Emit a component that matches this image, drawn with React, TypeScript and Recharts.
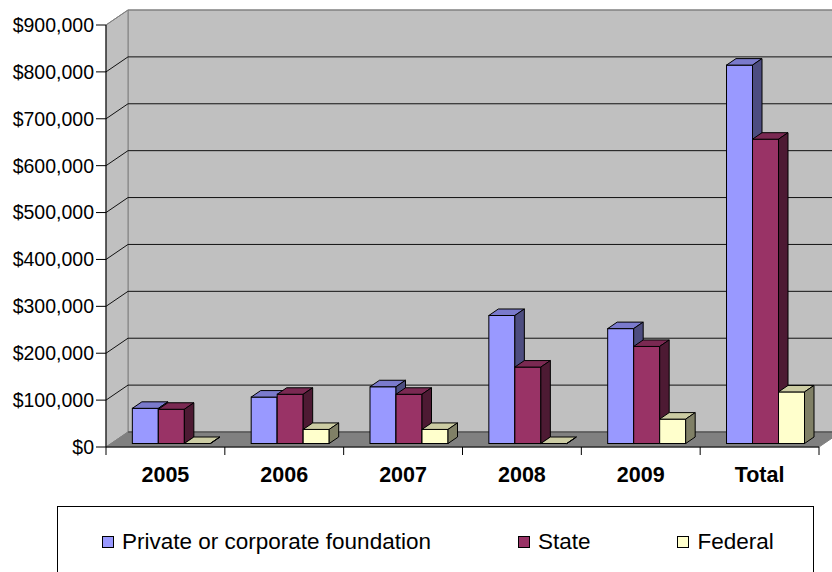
import React from "react";
import { BarChart, Bar, XAxis, YAxis, CartesianGrid } from "recharts";

const CATEGORIES = ["2005", "2006", "2007", "2008", "2009", "Total"];
const PRIVATE = [75000, 99000, 121000, 273000, 245000, 807000];
const STATE = [73000, 105000, 105000, 163000, 207000, 649000];
const FEDERAL = [0, 30000, 30000, 0, 52000, 110000];
const Y_TICKS = [0, 100000, 200000, 300000, 400000, 500000, 600000, 700000, 800000, 900000];

const SERIES = [
  { key: "private", name: "Private or corporate foundation", front: "#9999ff", top: "#7a7acc", side: "#4d4d80" },
  { key: "state", name: "State", front: "#993366", top: "#7a2952", side: "#4d1a33" },
  { key: "federal", name: "Federal", front: "#ffffcc", top: "#cccca3", side: "#808066" },
];

const data = CATEGORIES.map((name, i) => ({
  name,
  private: PRIVATE[i],
  state: STATE[i],
  federal: FEDERAL[i],
}));

const W = 832;
const H = 572;
const Y_AXIS_W = 106;
const X_AXIS_H = 125;
const MARGIN = { top: 25, right: 13, bottom: 0, left: 0 };
const AXIS_Y = H - X_AXIS_H;
const BAND = (W - Y_AXIS_W - MARGIN.right) / CATEGORIES.length;
const FONT = "Arial, 'Liberation Sans', sans-serif";

// 3d look: back wall offset, bar plane offset and bar depth
const WALL_DX = 22;
const WALL_DY = -15;
const BAR_DX = 6.5;
const BAR_DY = -3.5;
const DEPTH_X = 9.5;
const DEPTH_Y = -6.5;

const money = (v: number) => "$" + v.toLocaleString("en-US");

const pts = (p: number[][]) => p.map((q) => q.join(",")).join(" ");

function Walls(props: any) {
  const { x, y, width, height, index } = props;
  if (index !== 0) return <g key={props.key} />;
  const l = x;
  const r = x + width;
  const t = y;
  const b = y + height;
  return (
    <g key={props.key}>
      <polygon
        points={pts([[l + WALL_DX, t + WALL_DY], [r + WALL_DX, t + WALL_DY], [r + WALL_DX, b + WALL_DY], [l + WALL_DX, b + WALL_DY]])}
        fill="#c0c0c0"
        stroke="#808080"
      />
      <polygon
        points={pts([[l, t], [l + WALL_DX, t + WALL_DY], [l + WALL_DX, b + WALL_DY], [l, b]])}
        fill="#c0c0c0"
        stroke="#808080"
      />
      <polygon
        points={pts([[l, b], [r, b], [r + WALL_DX, b + WALL_DY], [l + WALL_DX, b + WALL_DY]])}
        fill="#808080"
        stroke="#808080"
      />
      <line x1={l + WALL_DX} y1={b + WALL_DY} x2={r + WALL_DX} y2={b + WALL_DY} stroke="#404040" />
    </g>
  );
}

function GridLine(props: any) {
  const { x1, x2, y1, y, height } = props;
  if (Math.abs(y1 - (y + height)) < 0.5) return <g key={props.key} />;
  const color = Math.abs(y1 - y) < 0.5 ? "#808080" : "#111";
  return (
    <g key={props.key}>
      <line x1={x1} y1={y1} x2={x1 + WALL_DX} y2={y1 + WALL_DY} stroke={color} />
      <line x1={x1 + WALL_DX} y1={y1 + WALL_DY} x2={x2 + WALL_DX} y2={y1 + WALL_DY} stroke={color} />
    </g>
  );
}

const makeBar = (s: (typeof SERIES)[number]) => (props: any) => {
  const { x, y, width, height } = props;
  if (x == null || y == null) return <g />;
  const fx = x + BAR_DX;
  const fy = y + BAR_DY;
  const h = Math.max(0, height);
  return (
    <g>
      <rect x={fx} y={fy} width={width} height={h} fill={s.front} stroke="#000" strokeWidth={1} />
      <polygon
        points={pts([[fx, fy], [fx + DEPTH_X, fy + DEPTH_Y], [fx + width + DEPTH_X, fy + DEPTH_Y], [fx + width, fy]])}
        fill={s.top}
        stroke="#000"
        strokeWidth={1}
        strokeLinejoin="round"
      />
      <polygon
        points={pts([[fx + width, fy], [fx + width + DEPTH_X, fy + DEPTH_Y], [fx + width + DEPTH_X, fy + h + DEPTH_Y], [fx + width, fy + h]])}
        fill={s.side}
        stroke="#000"
        strokeWidth={1}
        strokeLinejoin="round"
      />
    </g>
  );
};

function XTick(props: any) {
  const { x, payload } = props;
  const last = payload.index === CATEGORIES.length - 1;
  return (
    <g>
      <line x1={x - BAND / 2} y1={AXIS_Y} x2={x - BAND / 2} y2={AXIS_Y + 8} stroke="#000" />
      {last && <line x1={x + BAND / 2} y1={AXIS_Y} x2={x + BAND / 2} y2={AXIS_Y + 8} stroke="#000" />}
      <text x={x} y={AXIS_Y + 35} textAnchor="middle" fontWeight="bold" fontSize={21.5} fill="#000" fontFamily={FONT}>
        {payload.value}
      </text>
    </g>
  );
}

export default function App() {
  return (
    <div style={{ position: "absolute", left: 0, top: 0, width: W, height: H, background: "#fff", overflow: "hidden", fontFamily: FONT }}>
      <BarChart width={W} height={H} data={data} margin={MARGIN} barGap={0} barCategoryGap="16.7%">
        <CartesianGrid horizontal={Walls} vertical={false} />
        <CartesianGrid horizontal={GridLine} vertical={false} />
        <XAxis
          dataKey="name"
          height={X_AXIS_H}
          interval={0}
          tickLine={false}
          axisLine={{ stroke: "#000" }}
          tick={XTick}
        />
        <YAxis
          width={Y_AXIS_W}
          domain={[0, 900000]}
          ticks={Y_TICKS}
          tickFormatter={money}
          tickSize={10}
          tickMargin={2}
          axisLine={{ stroke: "#000" }}
          tickLine={{ stroke: "#000" }}
          tick={{ fontSize: 19.5, fill: "#000", fontFamily: FONT }}
        />
        {SERIES.map((s) => (
          <Bar key={s.key} dataKey={s.key} name={s.name} shape={makeBar(s)} isAnimationActive={false} />
        ))}
      </BarChart>

      <div
        style={{
          position: "absolute",
          left: 57,
          top: 506,
          width: 757,
          height: 90,
          border: "1px solid #000",
          boxSizing: "border-box",
        }}
      >
        <div style={{ position: "absolute", left: 44, top: 22, display: "flex", alignItems: "center", gap: 87, whiteSpace: "nowrap" }}>
          {SERIES.map((s) => (
            <div key={s.key} style={{ display: "flex", alignItems: "center" }}>
              <span style={{ width: 12, height: 12, background: s.front, border: "1px solid #000", boxSizing: "border-box", marginRight: 8 }} />
              <span style={{ fontSize: 22.5, color: "#000", lineHeight: "26px" }}>{s.name}</span>
            </div>
          ))}
        </div>
      </div>
    </div>
  );
}
